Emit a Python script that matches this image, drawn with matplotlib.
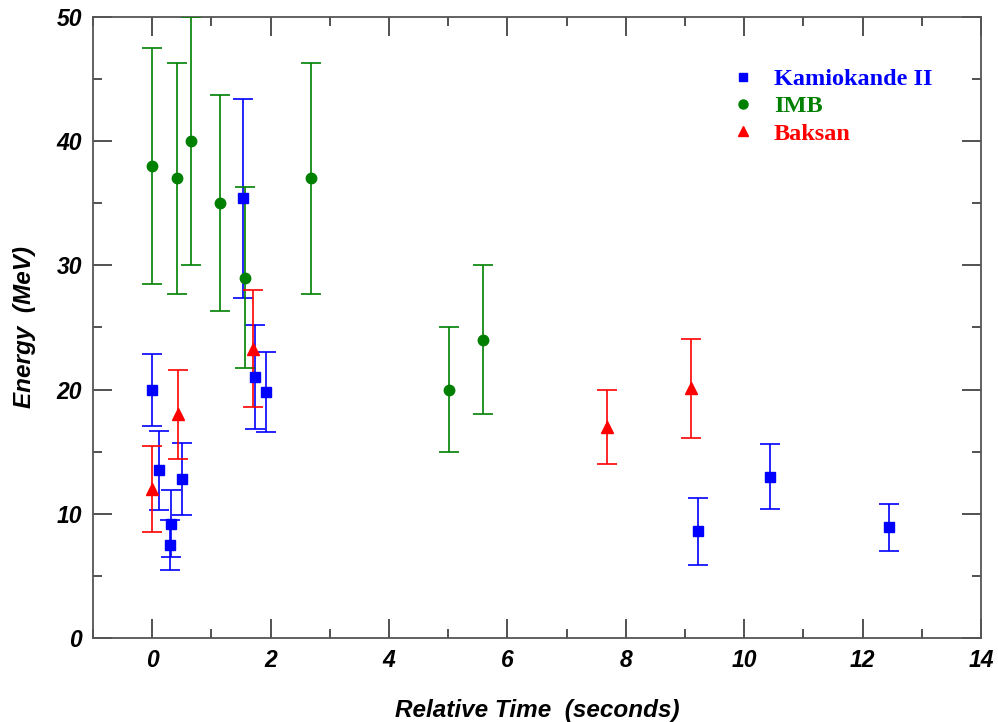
import matplotlib
matplotlib.use("Agg")
import matplotlib.pyplot as plt
from matplotlib.lines import Line2D
from matplotlib.ticker import MultipleLocator

# Kamiokande II
kam_t = [0.0, 0.107, 0.303, 0.324, 0.507, 1.541, 1.728, 1.915, 9.219, 10.433, 12.439]
kam_e = [20.0, 13.5, 7.5, 9.2, 12.8, 35.4, 21.0, 19.8, 8.6, 13.0, 8.9]
kam_err = [2.9, 3.2, 2.0, 2.7, 2.9, 8.0, 4.2, 3.2, 2.7, 2.6, 1.9]

# IMB
imb_t = [0.0, 0.412, 0.650, 1.141, 1.562, 2.684, 5.010, 5.582]
imb_e = [38.0, 37.0, 40.0, 35.0, 29.0, 37.0, 20.0, 24.0]
imb_err = [9.5, 9.3, 10.0, 8.7, 7.3, 9.3, 5.0, 6.0]

# Baksan
bak_t = [0.0, 0.435, 1.710, 7.687, 9.099]
bak_e = [12.0, 18.0, 23.3, 17.0, 20.1]
bak_err = [3.5, 3.6, 4.7, 3.0, 4.0]

labels = ["Kamiokande II", "IMB", "Baksan"]
colors = ["#0000FF", "#008000", "#FF0000"]
markers = ["s", "o", "^"]
msizes = [7, 7.5, 8]

fig = plt.figure(figsize=(9.98, 7.22), dpi=100)
ax = fig.add_axes([0.0932, 0.1163, 0.8898, 0.8602])

datasets = [(kam_t, kam_e, kam_err), (imb_t, imb_e, imb_err), (bak_t, bak_e, bak_err)]
for (t, e, err), c, m, ms in zip(datasets, colors, markers, msizes):
    ax.errorbar(t, e, yerr=err, fmt=m, color=c, ms=ms, mec=c, mfc=c,
                ecolor=c, elinewidth=1.2, capsize=7, capthick=1.2, zorder=3)

ax.set_xlim(-1, 14)
ax.set_ylim(0, 50)
ax.xaxis.set_major_locator(MultipleLocator(2))
ax.xaxis.set_minor_locator(MultipleLocator(1))
ax.yaxis.set_major_locator(MultipleLocator(10))
ax.yaxis.set_minor_locator(MultipleLocator(5))
ax.tick_params(which="both", direction="in", top=True, right=True, color="#333333", width=1.2)
ax.tick_params(which="major", length=13.5, pad=8)
ax.tick_params(which="minor", length=6.5)

tick_font = dict(family="Liberation Sans", weight="bold", style="italic", size=16.5)
for lab in ax.get_xticklabels() + ax.get_yticklabels():
    lab.set_fontproperties(matplotlib.font_manager.FontProperties(**tick_font))

for sp in ax.spines.values():
    sp.set_color("#555555")
    sp.set_linewidth(1.3)

ax.set_xlabel("Relative Time  (seconds)", family="Liberation Sans", weight="bold",
              style="italic", size=17.5, labelpad=19)
ax.set_ylabel("Energy  (MeV)", family="Liberation Sans", weight="bold",
              style="italic", size=17.5, labelpad=15)

handles = [Line2D([], [], ls="none", marker=m, color=c, ms=ms - 1)
           for m, c, ms in zip(markers, colors, msizes)]
leg = ax.legend(handles, labels, loc="upper left", bbox_to_anchor=(0.701, 0.933),
                frameon=False, prop=dict(family="Liberation Serif", weight="bold", size=17.5),
                labelcolor=colors, labelspacing=0.21, handletextpad=0.5, handlelength=1.5,
                borderaxespad=0)

fig.savefig("out.png", dpi=100)
